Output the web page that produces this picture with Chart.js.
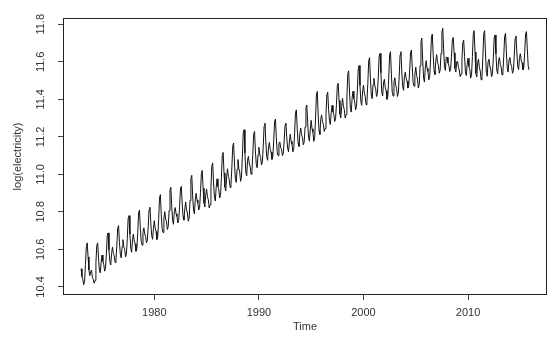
<!DOCTYPE html>
<html>
<head>
<meta charset="utf-8">
<script src="https://cdn.jsdelivr.net/npm/chart.js@4/dist/chart.umd.min.js"></script>
<style>
html,body{margin:0;padding:0;background:#fff;}
#wrap{width:557px;height:349px;}
</style>
</head>
<body>
<div id="wrap"><canvas id="c" width="557" height="349"></canvas></div>
<script>
// Monthly log(electricity), Jan..Dec of each year
const y1973 = [10.497,10.455,10.440,10.412,10.430,10.520,10.615,10.635,10.560,10.490,10.460,10.480];
const y1974 = [10.490,10.450,10.440,10.420,10.435,10.530,10.620,10.635,10.555,10.490,10.475,10.530];
const y1975 = [10.570,10.535,10.521,10.484,10.498,10.576,10.674,10.688,10.596,10.537,10.517,10.578];
const y1976 = [10.613,10.579,10.565,10.530,10.544,10.619,10.713,10.727,10.638,10.575,10.555,10.614];
const y1977 = [10.652,10.615,10.600,10.560,10.575,10.659,10.765,10.780,10.681,10.605,10.585,10.651];
const y1978 = [10.682,10.645,10.630,10.590,10.605,10.689,10.795,10.810,10.711,10.643,10.623,10.689];
const y1979 = [10.715,10.683,10.669,10.635,10.648,10.721,10.812,10.825,10.740,10.674,10.654,10.711];
const y1980 = [10.753,10.713,10.696,10.653,10.670,10.761,10.875,10.892,10.784,10.710,10.690,10.762];
const y1981 = [10.801,10.762,10.747,10.706,10.722,10.807,10.915,10.931,10.830,10.754,10.734,10.802];
const y1982 = [10.823,10.790,10.776,10.741,10.755,10.829,10.922,10.936,10.848,10.776,10.756,10.815];
const y1983 = [10.853,10.811,10.794,10.750,10.767,10.860,10.978,10.995,10.885,10.810,10.790,10.864];
const y1984 = [10.899,10.863,10.848,10.810,10.825,10.905,11.006,11.021,10.926,10.846,10.826,10.889];
const y1985 = [10.922,10.881,10.864,10.821,10.838,10.929,11.044,11.061,10.953,10.878,10.858,10.930];
const y1986 = [10.976,10.935,10.918,10.874,10.891,10.983,11.100,11.117,11.008,10.932,10.912,10.985];
const y1987 = [11.030,10.989,10.973,10.930,10.947,11.037,11.150,11.167,11.060,10.977,10.957,11.028];
const y1988 = [11.079,11.032,11.013,10.963,10.982,11.087,11.219,11.238,11.114,11.012,10.992,11.075];
const y1989 = [11.096,11.057,11.041,11.000,11.016,11.103,11.213,11.229,11.126,11.055,11.035,11.104];
const y1990 = [11.144,11.106,11.090,11.050,11.066,11.150,11.257,11.273,11.173,11.095,11.075,11.142];
const y1991 = [11.170,11.134,11.119,11.080,11.095,11.177,11.280,11.295,11.198,11.120,11.100,11.165];
const y1992 = [11.173,11.143,11.131,11.100,11.112,11.178,11.261,11.273,11.195,11.140,11.120,11.172];
const y1993 = [11.214,11.176,11.160,11.120,11.136,11.221,11.328,11.344,11.243,11.169,11.149,11.216];
const y1994 = [11.247,11.211,11.196,11.158,11.173,11.253,11.355,11.370,11.275,11.197,11.177,11.241];
const y1995 = [11.288,11.243,11.224,11.176,11.195,11.296,11.423,11.442,11.322,11.233,11.213,11.293];
const y1996 = [11.317,11.281,11.267,11.229,11.244,11.323,11.423,11.438,11.344,11.286,11.266,11.329];
const y1997 = [11.368,11.333,11.319,11.282,11.296,11.374,11.472,11.486,11.394,11.321,11.301,11.362];
const y1998 = [11.406,11.363,11.345,11.300,11.318,11.413,11.534,11.552,11.439,11.352,11.332,11.408];
const y1999 = [11.443,11.403,11.386,11.344,11.361,11.450,11.563,11.580,11.474,11.388,11.368,11.439];
const y2000 = [11.476,11.434,11.416,11.371,11.389,11.484,11.604,11.622,11.509,11.423,11.403,11.478];
const y2001 = [11.512,11.473,11.456,11.415,11.431,11.519,11.629,11.645,11.542,11.438,11.418,11.487];
const y2002 = [11.507,11.464,11.446,11.400,11.418,11.514,11.636,11.654,11.540,11.438,11.418,11.494];
const y2003 = [11.515,11.475,11.458,11.415,11.432,11.523,11.637,11.654,11.546,11.468,11.448,11.520];
const y2004 = [11.545,11.511,11.497,11.460,11.474,11.551,11.649,11.663,11.572,11.490,11.470,11.531];
const y2005 = [11.572,11.527,11.508,11.460,11.479,11.580,11.707,11.726,11.606,11.512,11.492,11.572];
const y2006 = [11.606,11.565,11.548,11.504,11.521,11.614,11.731,11.748,11.638,11.552,11.532,11.605];
const y2007 = [11.638,11.598,11.581,11.539,11.556,11.645,11.758,11.779,11.669,11.574,11.554,11.625];
const y2008 = [11.624,11.594,11.581,11.548,11.561,11.630,11.717,11.730,11.648,11.565,11.545,11.600];
const y2009 = [11.603,11.570,11.556,11.521,11.535,11.609,11.702,11.716,11.628,11.547,11.527,11.586];
const y2010 = [11.619,11.576,11.559,11.513,11.531,11.627,11.748,11.766,11.652,11.539,11.519,11.595];
const y2011 = [11.614,11.570,11.551,11.504,11.522,11.622,11.748,11.766,11.648,11.543,11.523,11.602];
const y2012 = [11.614,11.577,11.561,11.521,11.537,11.621,11.727,11.743,11.643,11.556,11.536,11.603];
const y2013 = [11.623,11.586,11.570,11.530,11.546,11.630,11.736,11.752,11.652,11.565,11.545,11.612];
const y2014 = [11.623,11.589,11.575,11.539,11.553,11.629,11.724,11.738,11.648,11.578,11.558,11.618];
const y2015 = [11.643,11.608,11.594,11.557,11.571,11.649,11.747,11.761,11.669,11.580,11.557];

const startYear = 1973;
const xTicks = [1980, 1990, 2000, 2010];
const yTicks = [10.4, 10.6, 10.8, 11.0, 11.2, 11.4, 11.6, 11.8];
const xTitle = 'Time';
const yTitle = 'log(electricity)';

const years = [y1973,y1974,y1975,y1976,y1977,y1978,y1979,y1980,y1981,y1982,y1983,y1984,y1985,
  y1986,y1987,y1988,y1989,y1990,y1991,y1992,y1993,y1994,y1995,y1996,y1997,y1998,y1999,y2000,
  y2001,y2002,y2003,y2004,y2005,y2006,y2007,y2008,y2009,y2010,y2011,y2012,y2013,y2014,y2015];

const points = [];
years.forEach((arr, yi) => arr.forEach((v, m) => points.push({x: startYear + yi + m / 12, y: v})));

const FONT = {family: '"Liberation Sans", Arial, sans-serif', size: 11};
const TXT = '#333';

const boxPlugin = {
  id: 'box',
  afterDraw(chart) {
    const {ctx, chartArea: a} = chart;
    ctx.save();
    ctx.strokeStyle = '#222';
    ctx.lineWidth = 1;
    ctx.strokeRect(Math.round(a.left) + 0.5, Math.round(a.top) + 0.5,
      Math.round(a.right - a.left) - 1, Math.round(a.bottom - a.top) - 1);
    ctx.restore();
  }
};

new Chart(document.getElementById('c'), {
  type: 'line',
  data: {
    datasets: [{
      data: points,
      borderColor: '#111',
      borderWidth: 1,
      pointRadius: 0,
      tension: 0,
      fill: false
    }]
  },
  options: {
    responsive: false,
    animation: false,
    events: [],
    layout: {padding: {top: 18, right: 10, left: 0, bottom: 0}},
    plugins: {legend: {display: false}, tooltip: {enabled: false}},
    scales: {
      x: {
        type: 'linear',
        min: 1971.27, max: 2017.55,
        afterBuildTicks: s => { s.ticks = xTicks.map(v => ({value: v})); },
        afterFit: s => { s.height = 54; },
        grid: {drawOnChartArea: false, drawTicks: true, tickLength: 5, tickColor: '#444', tickWidth: 1},
        border: {display: false},
        ticks: {font: FONT, color: TXT, padding: 6, maxRotation: 0, minRotation: 0, autoSkip: false,
          callback: v => String(v)},
        title: {display: true, text: xTitle, font: FONT, color: TXT, padding: {top: 0, bottom: 15}}
      },
      y: {
        type: 'linear',
        min: 10.357, max: 11.8335,
        afterBuildTicks: s => { s.ticks = yTicks.map(v => ({value: v})); },
        afterFit: s => { s.width = 63; },
        grid: {drawOnChartArea: false, drawTicks: true, tickLength: 5, tickColor: '#444', tickWidth: 1},
        border: {display: false},
        ticks: {font: FONT, color: TXT, padding: 6, minRotation: 90, maxRotation: 90, crossAlign: 'center',
          autoSkip: false, callback: v => v.toFixed(1)},
        title: {display: true, text: yTitle, font: FONT, color: TXT, padding: {top: 11, bottom: 0}}
      }
    }
  },
  plugins: [boxPlugin]
});
</script>
</body>
</html>
